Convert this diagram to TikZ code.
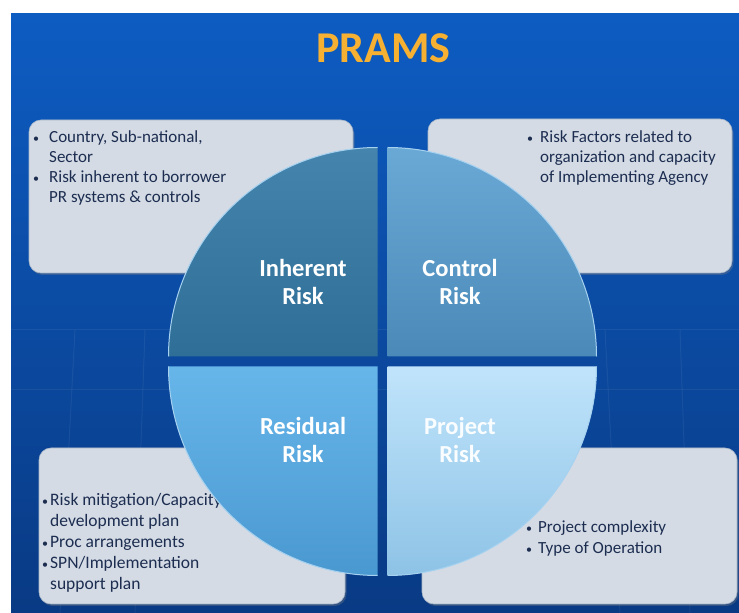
\documentclass[tikz,border=0pt]{standalone}
\usepackage{fontspec}
\setmainfont{Carlito}
\usetikzlibrary{shadows}
\definecolor{bgtop}{HTML}{0D5CC2}
\definecolor{bgbot}{HTML}{093A84}
\definecolor{boxfill}{HTML}{D4DBE5}
\definecolor{boxedge}{HTML}{A9B8CA}
\definecolor{txtcol}{HTML}{1C2D50}
\definecolor{rim}{HTML}{A6D2F0}
\definecolor{titlecol}{HTML}{F7B132}
\definecolor{tltop}{HTML}{4585AD}
\definecolor{tlbot}{HTML}{2F6E96}
\definecolor{trtop}{HTML}{6AA8D6}
\definecolor{trbot}{HTML}{4B8AB8}
\definecolor{bltop}{HTML}{67B6EA}
\definecolor{blbot}{HTML}{4A98D0}
\definecolor{brtop}{HTML}{C0E4FB}
\definecolor{brbot}{HTML}{8EC3E6}
\newcommand\bulpt[1][12pt]{\makebox[#1][l]{\fontsize{12}{12}\selectfont\raisebox{0.5pt}{\textbullet}}}
\newcommand\bulind[1][12pt]{\hspace*{#1}}
\begin{document}
\begin{tikzpicture}[x=1pt,y=1pt,
  infobox/.style={draw=boxedge, line width=0.6pt, fill=boxfill, rounded corners=12pt,
    drop shadow={opacity=0.35, shadow xshift=1.5pt, shadow yshift=-2pt}},
  infotext/.style={text=txtcol, inner sep=0pt, anchor=base west},
  qlabel/.style={text=white, font=\bfseries\fontsize{24.5}{28}\selectfont, align=center, inner sep=0pt},
  gridline/.style={draw=white, opacity=0.06, line width=1pt}]
\useasboundingbox (0,0) rectangle (739,613);
\fill[white] (0,0) rectangle (739,613);
% slide background
\shade[top color=bgtop, bottom color=bgbot] (11,0) rectangle (739,599);
% faint grid
\draw[gridline] (11,283) -- (739,283);
\draw[gridline] (11,223) -- (739,223);
\draw[gridline] (60,0) -- (75,283);
\draw[gridline] (135,0) -- (145,283);
\draw[gridline] (620,0) -- (605,283);
\draw[gridline] (690,0) -- (680,283);
% title
\node[text=titlecol, font=\bfseries\fontsize{44}{48}\selectfont, inner sep=0pt] (title) at (383.5,565) {PRAMS};
% info boxes
\draw[infobox] (29,340) rectangle (353,493);
\draw[infobox] (428,340) rectangle (732,494);
\draw[infobox] (39,9) rectangle (345,165);
\draw[infobox] (422,9) rectangle (737,165);
% box texts
\node[infotext] (tInherent) at (33,470.3) {\fontsize{17}{20}\selectfont
  \begin{tabular}[t]{@{}l@{}}
  \bulpt[16pt]Country, Sub-national,\\
  \bulind[16pt]Sector\\
  \bulpt[16pt]Risk inherent to borrower\\
  \bulind[16pt]PR systems \& controls
  \end{tabular}};
\node[infotext] (tControl) at (527,470.3) {\fontsize{17}{19.7}\selectfont
  \begin{tabular}[t]{@{}l@{}}
  \bulpt[13pt]Risk Factors related to\\
  \bulind[13pt]organization and capacity\\
  \bulind[13pt]of Implementing Agency
  \end{tabular}};
\node[infotext] (tResidual) at (42,107) {\fontsize{17.5}{21}\selectfont
  \begin{tabular}[t]{@{}l@{}}
  \bulpt[8pt]Risk mitigation/Capacity\\
  \bulind[8pt]development plan\\
  \bulpt[8pt]Proc arrangements\\
  \bulpt[8pt]SPN/Implementation\\
  \bulind[8pt]support plan
  \end{tabular}};
\node[infotext] (tProject) at (526,80) {\fontsize{17}{21}\selectfont
  \begin{tabular}[t]{@{}l@{}}
  \bulpt[12pt]Project complexity\\
  \bulpt[12pt]Type of Operation
  \end{tabular}};
% circle quadrants
\shade[top color=tltop, bottom color=tlbot] (377.5,256.5) -- ++(-209,0) arc[start angle=180, end angle=90, radius=209] -- cycle;
\draw[rim, line width=1pt] (168.5,256.5) arc[start angle=180, end angle=90, radius=209];
\shade[top color=trtop, bottom color=trbot] (387.5,256.5) -- ++(0,209) arc[start angle=90, end angle=0, radius=209] -- cycle;
\draw[rim, line width=1pt] (387.5,465.5) arc[start angle=90, end angle=0, radius=209];
\shade[top color=bltop, bottom color=blbot] (377.5,246.5) -- ++(-209,0) arc[start angle=180, end angle=270, radius=209] -- cycle;
\draw[rim, line width=1pt] (168.5,246.5) arc[start angle=180, end angle=270, radius=209];
\shade[top color=brtop, bottom color=brbot] (387.5,246.5) -- ++(209,0) arc[start angle=0, end angle=-90, radius=209] -- cycle;
\draw[rim, line width=1pt] (596.5,246.5) arc[start angle=0, end angle=-90, radius=209];
% quadrant labels
\node[qlabel] (lInherent) at (303,331) {Inherent\\Risk};
\node[qlabel] (lControl) at (460,331) {Control\\Risk};
\node[qlabel] (lResidual) at (303,173) {Residual\\Risk};
\node[qlabel, text=white!92!brtop] (lProject) at (460,173) {Project\\Risk};
\end{tikzpicture}
\end{document}
